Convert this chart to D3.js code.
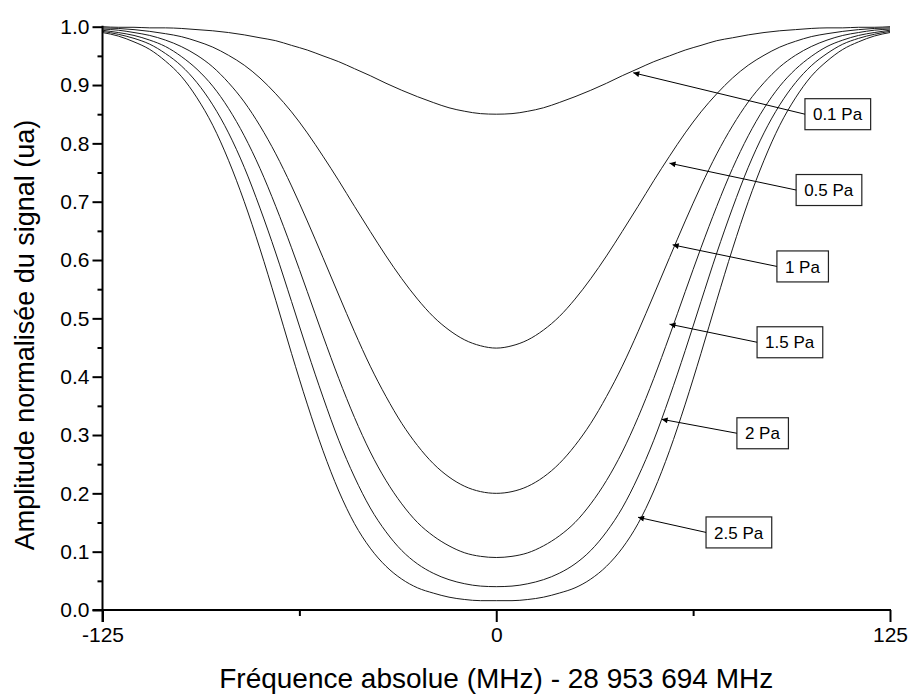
<!DOCTYPE html>
<html><head><meta charset="utf-8">
<script src="https://cdn.jsdelivr.net/npm/d3@7"></script>
<style>html,body{margin:0;padding:0;background:#fff;}svg{display:block;font-family:"Liberation Sans",Arial,sans-serif;}</style>
</head><body><svg id="c" width="911" height="697"></svg>
<script>
// frequency grid (MHz, offset from 28 953 694 MHz)
const freqs = [-125,-120,-115,-110,-105,-100,-95,-90,-85,-80,-75,-70,-65,-60,-55,-50,-45,-40,-35,-30,-25,-20,-15,-10,-5,0,5,10,15,20,25,30,35,40,45,50,55,60,65,70,75,80,85,90,95,100,105,110,115,120,125];
const pressures = ["0.1 Pa","0.5 Pa","1 Pa","1.5 Pa","2 Pa","2.5 Pa"];
const amp01 = [1.000,0.999,0.999,0.998,0.998,0.997,0.995,0.993,0.990,0.986,0.981,0.976,0.968,0.960,0.950,0.940,0.928,0.916,0.903,0.891,0.880,0.870,0.861,0.855,0.851,0.850,0.851,0.855,0.861,0.870,0.880,0.891,0.903,0.916,0.928,0.940,0.950,0.960,0.968,0.976,0.981,0.986,0.990,0.993,0.995,0.997,0.998,0.998,0.999,0.999,1.000];
const amp05 = [0.998,0.997,0.995,0.992,0.988,0.983,0.975,0.965,0.951,0.934,0.912,0.885,0.854,0.818,0.778,0.736,0.692,0.649,0.607,0.568,0.533,0.503,0.480,0.463,0.453,0.449,0.453,0.463,0.480,0.503,0.533,0.568,0.607,0.649,0.692,0.736,0.778,0.818,0.854,0.885,0.912,0.934,0.951,0.965,0.975,0.983,0.988,0.992,0.995,0.997,0.998];
const amp1 = [0.996,0.994,0.990,0.985,0.977,0.966,0.951,0.931,0.904,0.871,0.830,0.782,0.727,0.667,0.604,0.540,0.477,0.418,0.366,0.320,0.282,0.251,0.228,0.212,0.203,0.200,0.203,0.212,0.228,0.251,0.282,0.320,0.366,0.418,0.477,0.540,0.604,0.667,0.727,0.782,0.830,0.871,0.904,0.931,0.951,0.966,0.977,0.985,0.990,0.994,0.996];
const amp15 = [0.994,0.990,0.985,0.977,0.966,0.949,0.927,0.898,0.860,0.813,0.757,0.692,0.621,0.546,0.470,0.397,0.330,0.271,0.222,0.182,0.150,0.127,0.110,0.098,0.092,0.090,0.092,0.098,0.110,0.127,0.150,0.182,0.222,0.271,0.330,0.397,0.470,0.546,0.621,0.692,0.757,0.813,0.860,0.898,0.927,0.949,0.966,0.977,0.985,0.990,0.994];
const amp2 = [0.992,0.987,0.980,0.970,0.954,0.933,0.904,0.866,0.818,0.759,0.689,0.612,0.529,0.445,0.365,0.291,0.228,0.175,0.134,0.102,0.079,0.063,0.052,0.045,0.041,0.040,0.041,0.045,0.052,0.063,0.079,0.102,0.134,0.175,0.228,0.291,0.365,0.445,0.529,0.612,0.689,0.759,0.818,0.866,0.904,0.933,0.954,0.970,0.980,0.987,0.992];
const amp25 = [0.990,0.984,0.974,0.961,0.941,0.915,0.878,0.831,0.771,0.700,0.619,0.531,0.440,0.353,0.273,0.204,0.148,0.106,0.075,0.053,0.038,0.029,0.022,0.018,0.016,0.016,0.016,0.018,0.022,0.029,0.038,0.053,0.075,0.106,0.148,0.204,0.273,0.353,0.440,0.531,0.619,0.700,0.771,0.831,0.878,0.915,0.941,0.961,0.974,0.984,0.990];
const seriesValues = [amp01, amp05, amp1, amp15, amp2, amp25];
// annotation: label box left-edge anchor (data coords) and arrow target (data coords)
const labelFreq = [98.0, 95.2, 89.1, 82.8, 76.4, 66.6];
const labelAmp  = [0.850, 0.720, 0.589, 0.459, 0.303, 0.133];
const arrowFreq = [43.5, 55, 56, 55, 52.5, 45];
const arrowAmp  = [0.921, 0.766, 0.626, 0.490, 0.327, 0.159];
const xTicks = [-125, 0, 125];
const xMinor = [-62.5, 62.5];
const yTicks = [0,0.1,0.2,0.3,0.4,0.5,0.6,0.7,0.8,0.9,1.0];
const yMinor = [0.05,0.15,0.25,0.35,0.45,0.55,0.65,0.75,0.85,0.95];
const xTitle = "Fréquence absolue (MHz) - 28 953 694 MHz";
const yTitle = "Amplitude normalisée du signal (ua)";

const svg = d3.select("#c");
const L = 102.5, R = 890, T = 26.7, B = 610;
const x = d3.scaleLinear().domain([-125,125]).range([L,R]);
const y = d3.scaleLinear().domain([0,1]).range([B,T]);

const defs = svg.append("defs");
defs.append("marker").attr("id","ah").attr("viewBox","0 0 10 10").attr("refX",10).attr("refY",5)
  .attr("markerWidth",10).attr("markerHeight",6).attr("markerUnits","userSpaceOnUse").attr("orient","auto")
  .append("path").attr("d","M0,0L10,5L0,10Z").attr("fill","#000");

// curves
const line = d3.line().x((d,i)=>x(freqs[i])).y(d=>y(d)).curve(d3.curveMonotoneX);
svg.append("g").selectAll("path").data(seriesValues).join("path")
  .attr("d", d=>line(d)).attr("fill","none").attr("stroke","#1a1a1a").attr("stroke-width",1);

// axes
const gx = svg.append("g").attr("transform",`translate(0,${B})`)
  .call(d3.axisBottom(x).tickValues(xTicks).tickSize(12).tickPadding(5).tickFormat(d3.format("d")));
const gxm = svg.append("g").attr("transform",`translate(0,${B})`)
  .call(d3.axisBottom(x).tickValues(xMinor).tickSize(6).tickFormat(""));
const gy = svg.append("g").attr("transform",`translate(${L},0)`)
  .call(d3.axisLeft(y).tickValues(yTicks).tickSize(10).tickPadding(3).tickFormat(d3.format(".1f")));
const gym = svg.append("g").attr("transform",`translate(${L},0)`)
  .call(d3.axisLeft(y).tickValues(yMinor).tickSize(5).tickFormat(""));
[gx,gxm,gy,gym].forEach(g=>{
  g.select(".domain").remove();
  g.selectAll(".tick line").attr("stroke","#000").attr("stroke-width",2);
  g.selectAll("text").attr("fill","#000").attr("font-size",21).attr("font-family","Liberation Sans, Arial, sans-serif");
});
gx.selectAll(".tick text").text(d=>d<0?"-"+Math.abs(d):d);
svg.append("line").attr("x1",L-10).attr("x2",R+1).attr("y1",B).attr("y2",B).attr("stroke","#000").attr("stroke-width",2);
svg.append("line").attr("x1",L).attr("x2",L).attr("y1",T-1).attr("y2",B+12).attr("stroke","#000").attr("stroke-width",2);

// titles
svg.append("text").attr("x",(L+R)/2).attr("y",688).attr("text-anchor","middle")
  .attr("font-size",28).attr("fill","#000").text(xTitle);
svg.append("text").attr("transform",`translate(34,335) rotate(-90)`).attr("text-anchor","middle")
  .attr("font-size",27).attr("fill","#000").text(yTitle);

// annotations
const ann = svg.append("g");
pressures.forEach((p,i)=>{
  const left = x(labelFreq[i]), by = y(labelAmp[i]);
  const t = ann.append("text").attr("x",left+8).attr("y",by).attr("dy","0.36em").attr("text-anchor","start")
    .attr("font-size",17).attr("fill","#000").text(p);
  const bb = t.node().getBBox();
  const w = bb.width + 16, h = 31;
  ann.insert("rect","text").attr("x",left).attr("y",by-h/2).attr("width",w).attr("height",h)
    .attr("fill","#fff").attr("stroke","#222").attr("stroke-width",1.2);
  ann.append("line").attr("x1",left).attr("y1",by).attr("x2",x(arrowFreq[i])).attr("y2",y(arrowAmp[i]))
    .attr("stroke","#000").attr("stroke-width",1).attr("marker-end","url(#ah)");
});
</script></body></html>
